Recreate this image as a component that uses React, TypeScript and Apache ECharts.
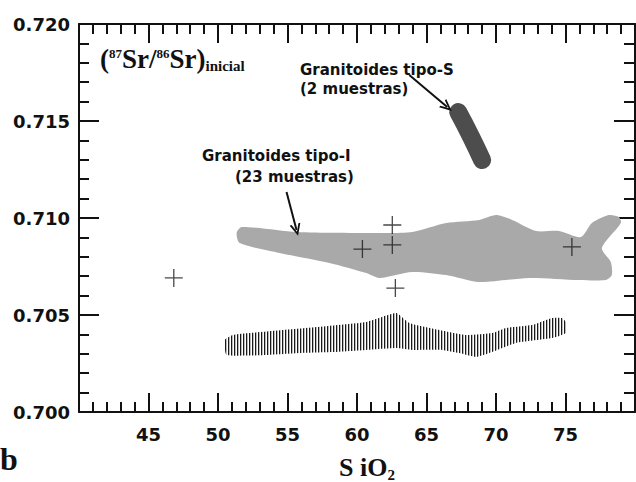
import React, { useEffect, useRef } from "react";
import * as echarts from "echarts";

// Individual samples (crosses)
const SAMPLE_SIO2 = [46.82, 60.39, 62.54, 62.54, 62.76, 75.46];
const SAMPLE_SR = [0.70691, 0.7084, 0.70861, 0.70964, 0.70639, 0.70851];

// Granitoides tipo-I field outline
const ITYPE_SIO2 = [51.34, 51.7, 55.65, 61.61, 63.98, 66.42, 68.79, 70.01, 71.16, 72.88, 74.53, 76.11, 76.9, 78.12, 78.84, 78.98, 77.62, 78.26, 78.33, 77.9, 75.97, 72.38, 68.79, 66.42, 63.98, 61.61, 60.67, 58.02, 54.43, 51.56];
const ITYPE_SR = [0.70923, 0.70954, 0.70928, 0.70923, 0.70928, 0.70974, 0.7099, 0.71015, 0.7099, 0.70933, 0.70933, 0.70902, 0.70974, 0.71015, 0.71005, 0.70974, 0.70845, 0.70773, 0.70706, 0.7068, 0.7068, 0.70691, 0.7067, 0.70706, 0.70722, 0.70691, 0.70716, 0.70768, 0.7082, 0.70871];

// Granitoides tipo-S trend
const STYPE_SIO2 = [67.28, 68.21, 69.0];
const STYPE_SR = [0.71546, 0.71418, 0.71299];

// Lower hatched field outline
const HATCH_SIO2 = [50.48, 51.06, 52.28, 57.09, 60.67, 62.83, 63.76, 65.92, 67.85, 69.72, 70.72, 72.59, 74.03, 74.74, 75.03, 75.03, 74.03, 71.44, 69.72, 68.57, 67.35, 66.13, 63.98, 62.83, 60.67, 58.23, 55.86, 53.5, 50.62];
const HATCH_SR = [0.70371, 0.70397, 0.70407, 0.70438, 0.70464, 0.7051, 0.70459, 0.70423, 0.70397, 0.70407, 0.70433, 0.70448, 0.70485, 0.70485, 0.70464, 0.70407, 0.70381, 0.70356, 0.70309, 0.70284, 0.70304, 0.7032, 0.7032, 0.7033, 0.7032, 0.70309, 0.70304, 0.70294, 0.70294];

// Arrows [fromX, fromY, toX, toY]
const ARROW_S = [63.76, 0.71737, 66.49, 0.71572];
const ARROW_I = [54.93, 0.71134, 55.65, 0.70938];

const X_MIN = 40, X_MAX = 80, X_STEP = 5;
const Y_MIN = 0.7, Y_MAX = 0.72, Y_STEP = 0.005;

const INK = "#111";
const SANS = "DejaVu Sans, Verdana, sans-serif";
const SERIF = "Liberation Serif, Times New Roman, serif";

const CHEVRON = "path://M0,10 L5,0 L10,10 L8.2,10 L5,3.6 L1.8,10 Z";
const CROSS = "path://M8.35,0 H9.65 V18 H8.35 Z M0,8.35 H18 V9.65 H0 Z";

export default function App() {
  const ref = useRef<HTMLDivElement>(null);
  useEffect(() => {
    if (!ref.current) return;
    const chart = echarts.init(ref.current, null, { renderer: "svg" });
    const tickStyle = { color: INK, width: 2 };
    const hatchSvg =
      "<svg xmlns='http://www.w3.org/2000/svg' width='3' height='3'><rect x='0' y='0' width='1.3' height='3' fill='#1a1a1a'/></svg>";
    const hatch = {
      image: "data:image/svg+xml;charset=utf-8," + encodeURIComponent(hatchSvg),
      repeat: "repeat",
      imageWidth: 3,
      imageHeight: 3,
    };
    const xBase = (pos: string, labels: boolean, len: number, mlen: number) => ({
      type: "value",
      min: X_MIN,
      max: X_MAX,
      interval: X_STEP,
      position: pos,
      axisLine: { show: true, onZero: false, lineStyle: tickStyle },
      axisTick: { show: true, inside: true, length: len, lineStyle: tickStyle },
      minorTick: { show: true, splitNumber: 5, length: mlen, lineStyle: tickStyle },
      splitLine: { show: false },
      minorSplitLine: { show: false },
      axisLabel: labels
        ? { show: true, margin: 13, fontSize: 18, fontWeight: "bold", color: INK, fontFamily: SANS, showMinLabel: false, showMaxLabel: false }
        : { show: false },
    });
    const yBase = (pos: string, labels: boolean, len: number, mlen: number) => ({
      type: "value",
      min: Y_MIN,
      max: Y_MAX,
      interval: Y_STEP,
      position: pos,
      axisLine: { show: true, onZero: false, lineStyle: tickStyle },
      axisTick: { show: true, inside: true, length: len, lineStyle: tickStyle },
      minorTick: { show: true, splitNumber: 5, length: mlen, lineStyle: tickStyle },
      splitLine: { show: false },
      minorSplitLine: { show: false },
      axisLabel: labels
        ? { show: true, margin: 9, fontSize: 18, fontWeight: "bold", color: INK, fontFamily: SANS, formatter: (v: number) => v.toFixed(3) }
        : { show: false },
    });
    const polySeries = (xs: number[], ys: number[], fill: any, smooth: number) => ({
      type: "custom",
      silent: true,
      data: [0],
      renderItem: (_p: any, api: any) => ({
        type: "polygon",
        shape: { points: xs.map((x, i) => api.coord([x, ys[i]])), smooth },
        style: { fill, stroke: "none" },
      }),
      z: 2,
    });
    chart.setOption({
      animation: false,
      backgroundColor: "#fff",
      grid: { left: 79, right: 1, top: 24, bottom: 70 },
      xAxis: [xBase("bottom", true, 19, 10), xBase("top", false, 19, 10)],
      yAxis: [yBase("left", true, 20, 10), yBase("right", false, 21, 11)],
      series: [
        polySeries(ITYPE_SIO2, ITYPE_SR, "#a9a9a9", 0.25),
        polySeries(HATCH_SIO2, HATCH_SR, hatch, 0.15),
        {
          type: "line",
          data: STYPE_SIO2.map((x, i) => [x, STYPE_SR[i]]),
          showSymbol: false,
          silent: true,
          smooth: true,
          lineStyle: { color: "#4d4d4d", width: 18, cap: "round", join: "round" },
          z: 3,
        },
        {
          type: "scatter",
          data: SAMPLE_SIO2.map((x, i) => [x, SAMPLE_SR[i]]),
          symbol: CROSS,
          symbolSize: 18,
          itemStyle: { color: "#1a1a1a" },
          silent: true,
          z: 5,
          markLine: {
            silent: true,
            symbol: ["none", CHEVRON],
            symbolSize: [11, 12],
            lineStyle: { color: INK, width: 2, type: "solid" },
            label: { show: false },
            emphasis: { disabled: true },
            data: [
              [{ coord: [ARROW_S[0], ARROW_S[1]] }, { coord: [ARROW_S[2], ARROW_S[3]] }],
              [{ coord: [ARROW_I[0], ARROW_I[1]] }, { coord: [ARROW_I[2], ARROW_I[3]] }],
            ],
          },
        },
      ],
      graphic: [
        {
          type: "text",
          left: 100,
          top: 45,
          style: {
            text: "{p|(}{sup|87}{p|Sr/}{sup|86}{p|Sr)}{sub|inicial}",
            rich: {
              p: { fontSize: 27, fontWeight: "bold", fontFamily: SERIF, fill: INK, lineHeight: 28 },
              sup: { fontSize: 13, fontWeight: "bold", fontFamily: SERIF, fill: INK, verticalAlign: "top", lineHeight: 28, padding: [2, 0, 0, 0] },
              sub: { fontSize: 15, fontWeight: "bold", fontFamily: SERIF, fill: INK, verticalAlign: "bottom", lineHeight: 28 },
            },
          },
        },
        {
          type: "text",
          left: 300,
          top: 60,
          style: { text: "Granitoides tipo-S\n(2 muestras)", fontSize: 15, fontWeight: "bold", fontFamily: SANS, fill: INK, lineHeight: 19 },
        },
        {
          type: "text",
          left: 202,
          top: 148,
          style: { text: "Granitoides tipo-I", fontSize: 15, fontWeight: "bold", fontFamily: SANS, fill: INK },
        },
        {
          type: "text",
          left: 235,
          top: 169,
          style: { text: "(23 muestras)", fontSize: 15, fontWeight: "bold", fontFamily: SANS, fill: INK },
        },
        {
          type: "text",
          left: 0,
          top: 443,
          style: { text: "b", fontSize: 32, fontWeight: "bold", fontFamily: SERIF, fill: INK },
        },
        {
          type: "text",
          left: 339,
          top: 454,
          style: {
            text: "{m|S iO}{s|2}",
            rich: {
              m: { fontSize: 26, fontWeight: "bold", fontFamily: SERIF, fill: INK, lineHeight: 30 },
              s: { fontSize: 15, fontWeight: "bold", fontFamily: SERIF, fill: INK, verticalAlign: "bottom", lineHeight: 30 },
            },
          },
        },
      ],
    });
    return () => chart.dispose();
  }, []);
  return (
    <div
      ref={ref}
      style={{ position: "fixed", left: 0, top: 0, width: 636, height: 482, background: "#fff" }}
    />
  );
}
